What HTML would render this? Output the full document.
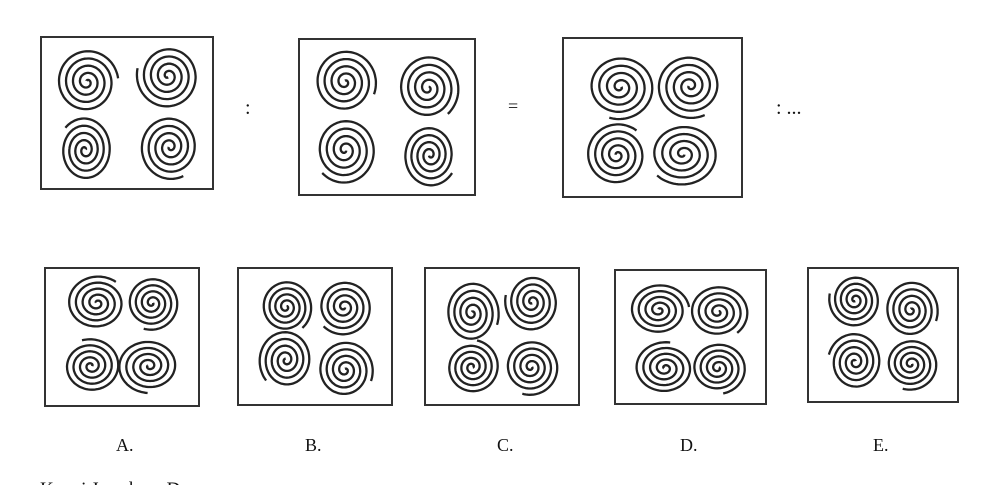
<!DOCTYPE html>
<html><head><meta charset="utf-8"><style>
body{margin:0;background:#fff;width:984px;height:485px;overflow:hidden}
svg{position:absolute;left:0;top:0}
text{font-family:"Liberation Serif",serif;fill:#111}
</style></head><body>
<svg id="s" width="984" height="485" xmlns="http://www.w3.org/2000/svg">
<g fill="none" stroke="#333" stroke-width="2">
<rect x="41" y="37" width="172" height="152"/>
<rect x="299" y="39" width="176" height="156"/>
<rect x="563" y="38" width="179" height="159"/>
<rect x="45" y="268" width="154" height="138"/>
<rect x="238" y="268" width="154" height="137"/>
<rect x="425" y="268" width="154" height="137"/>
<rect x="615" y="270" width="151" height="134"/>
<rect x="808" y="268" width="150" height="134"/>
</g>
<g id="sp" fill="none" stroke="#222" stroke-width="2.3"></g>
<text x="245" y="114" font-size="20">:</text>
<text x="508" y="112" font-size="18">=</text>
<text x="776" y="114" font-size="20">: ...</text>
<text x="116" y="451" font-size="18">A.</text>
<text x="305" y="451" font-size="18">B.</text>
<text x="497" y="451" font-size="18">C.</text>
<text x="680" y="451" font-size="18">D.</text>
<text x="873" y="451" font-size="18">E.</text>
<text x="40" y="495" font-size="19">Kunci Jawaban: D</text>
</svg>
<script>
var g=document.getElementById('sp');
function sp(cx,cy,rx,ry,rot,dir){
 var T=4.3*2*Math.PI,d='';
 for(var i=0;i<=400;i++){var t=T*i/400,f=0.04+0.96*t/T;var a=rot+dir*t;
  var x=cx+rx*f*Math.cos(a),y=cy+ry*f*Math.sin(a);d+=(i?'L':'M')+x.toFixed(1)+' '+y.toFixed(1);}
 var p=document.createElementNS('http://www.w3.org/2000/svg','path');p.setAttribute('d',d);g.appendChild(p);}
var k=1.08;
var S=[
[87,82,29,30,-2,1],[168,76,29,30,1.5,1],[85,150,25,30,-0.5,-1],[170,147,28,30,3,-1],
[345,82,29,30,-1.5,1],[428,88,29,31,-1,1],[345,150,29,31,0.5,1],[430,155,25,29,2.5,-1],
[620,87,32,30,0,1],[690,86,31,30,3,-1],[617,155,29,29,3.5,1],[683,154,33,29,0.5,1],
[97,303,28,25,3.5,1],[152,303,25,25,0,1],[91,366,27,25,0,-1],[149,366,29,25,3.5,-1],
[286,307,24,25,-1,1],[344,307,26,26,0.5,1],[286,360,25,28,-2,-1],[345,370,26,27,-1.5,1],
[472,313,25,29,-1.5,1],[532,302,25,27,1.5,1],[472,367,25,25,0.5,-1],[531,367,26,26,0,1],
[659,310,28,24,-2,1],[718,312,28,25,-1,1],[665,368,28,24,3,1],[718,368,26,24,-0.5,1],
[855,300,24,25,1.5,1],[911,310,25,27,-1.5,1],[855,362,25,27,-1,-1],[911,364,25,24,0,1]];
S.forEach(function(a){sp(a[0],a[1],a[2]*k,a[3]*k,a[4],a[5]);});
</script>
</body></html>
